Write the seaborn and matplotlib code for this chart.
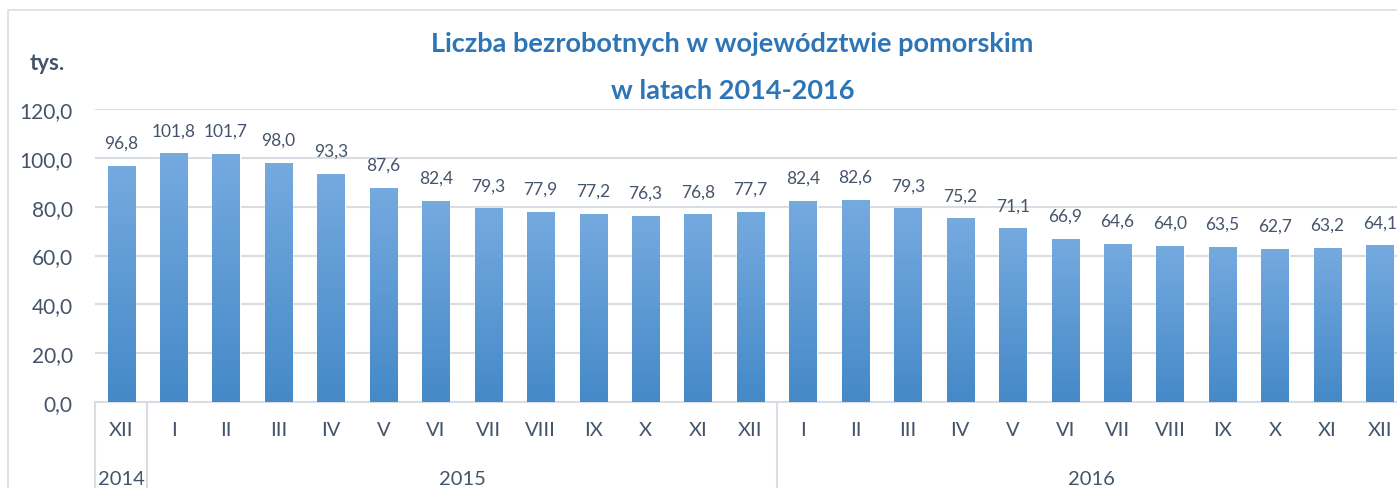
import numpy as np
import pandas as pd
import matplotlib.pyplot as plt
import seaborn as sns
from matplotlib.colors import LinearSegmentedColormap
from matplotlib.patches import Rectangle
import matplotlib.transforms as mtransforms

# Data
months = ["XII", "I", "II", "III", "IV", "V", "VI", "VII", "VIII", "IX", "X", "XI", "XII",
          "I", "II", "III", "IV", "V", "VI", "VII", "VIII", "IX", "X", "XI", "XII"]
years = ["2014"] + ["2015"] * 12 + ["2016"] * 12
values = [96.8,
          101.8, 101.7, 98.0, 93.3, 87.6, 82.4, 79.3, 77.9, 77.2, 76.3, 76.8, 77.7,
          82.4, 82.6, 79.3, 75.2, 71.1, 66.9, 64.6, 64.0, 63.5, 62.7, 63.2, 64.1]

df = pd.DataFrame({"pos": [f"{y}-{i}" for i, y in enumerate(years)],
                   "month": months, "year": years, "value": values})

sns.set_style("white")
plt.rcParams["font.family"] = ["Lato", "DejaVu Sans"]
text_col = "#44546A"
grid_col = "#D9DDE3"

fig = plt.figure(figsize=(13.97, 4.89), dpi=100)
ax = fig.add_axes([95 / 1397, 86 / 489, 1311 / 1397, 293 / 489])

sns.barplot(data=df, x="pos", y="value", color="#5B9BD5", width=0.52, ax=ax, zorder=2)

# gradient fill on bars + value labels
cmap = LinearSegmentedColormap.from_list("bar", ["#4589C8", "#75AADF"])
grad = np.linspace(0, 1, 256).reshape(-1, 1)
for p in ax.patches:
    x0, w, h = p.get_x(), p.get_width(), p.get_height()
    im = ax.imshow(grad, extent=[x0, x0 + w, 0, h], origin="lower", aspect="auto",
                   cmap=cmap, zorder=3)
    im.set_clip_path(p)
    ax.text(x0 + w / 2, h + 9.5, f"{h:.1f}".replace(".", ","), ha="center", va="center",
            fontsize=12.5, color=text_col)

ax.set_xlim(-0.5, len(values) - 0.5)
ax.set_ylim(0, 120)
ax.set_yticks(np.arange(0, 121, 20))
ax.set_yticklabels([f"{v:.1f}".replace(".", ",") for v in np.arange(0, 121, 20)],
                   fontsize=15, color=text_col)
ax.set_xticks(range(len(months)))
ax.set_xticklabels(months, fontsize=14.5, color=text_col)
ax.tick_params(axis="both", length=0)
ax.tick_params(axis="x", pad=14)
ax.tick_params(axis="y", pad=16)
ax.yaxis.grid(True, color=grid_col, lw=1.5, zorder=0)
ax.set_axisbelow(True)
ax.set_xlabel("")
ax.set_ylabel("")
for s in ["top", "right", "left"]:
    ax.spines[s].set_visible(False)
ax.spines["bottom"].set_color(grid_col)
ax.spines["bottom"].set_linewidth(1.5)

# year groups and separators
trans = mtransforms.blended_transform_factory(ax.transData, ax.transAxes)
for xs in [-0.5, 0.5, 12.5, 24.5]:
    ax.plot([xs, xs], [0, -0.3], transform=trans, color=grid_col, lw=1.5, clip_on=False)
for label, xc in [("2014", 0), ("2015", 6.5), ("2016", 18.5)]:
    ax.text(xc, -0.26, label, transform=trans, ha="center", va="center",
            fontsize=14.5, color=text_col)

# titles
fig.text(732 / 1397, 1 - 44 / 489, "Liczba bezrobotnych w województwie pomorskim",
         ha="center", va="center", fontsize=19.5, fontweight="bold", color="#2E75B6")
fig.text(733 / 1397, 1 - 91 / 489, "w latach 2014-2016",
         ha="center", va="center", fontsize=19.5, fontweight="bold", color="#2E75B6")
fig.text(47 / 1397, 1 - 63 / 489, "tys.", ha="center", va="center",
         fontsize=16, fontweight="bold", color=text_col)

# chart border
fig.patches.append(Rectangle((8 / 1397, -0.1), 1.1, 1 - 11 / 489 + 0.1,
                             transform=fig.transFigure, fill=False,
                             edgecolor=grid_col, lw=1.2))

fig.savefig("out.png", dpi=100)
